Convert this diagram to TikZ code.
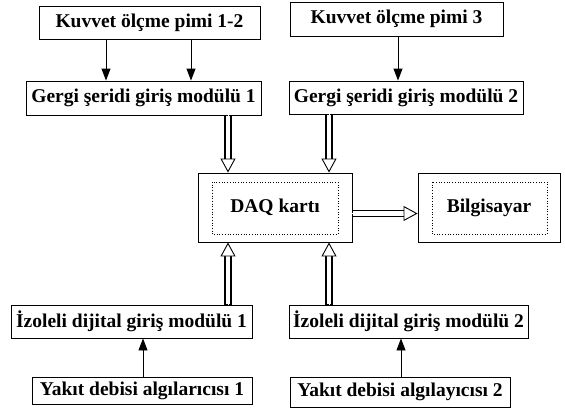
\documentclass[tikz,border=0pt]{standalone}
\usepackage{fontspec}
\setmainfont{Liberation Serif}
\usetikzlibrary{arrows.meta}
\tikzset{
	blok/.style={draw, line width=0.9pt, inner sep=0pt, font=\bfseries\fontsize{19.5}{22}\selectfont},
	ince/.style={line width=0.9pt, -{Triangle[length=12pt,width=9pt]}},
	bos/.style={
		preaction={draw=black, -, line width=7.8pt, shorten >=9pt},
		preaction={draw=white, -, line width=4.8pt, shorten >=8pt, shorten <=0.9pt},
		draw=white, line width=0.9pt,
		-{Triangle[open, fill=white, color=black, line width=0.9pt, length=14pt, width=15pt]}},
	icnokta/.style={draw, dotted, line width=0.7pt}
}
\begin{document}
\begin{tikzpicture}[x=1pt, y=-1pt, line join=miter]
	\useasboundingbox (0,0) rectangle (565,413);
	% kutular
	\node[blok, minimum width=221, minimum height=33] (k12) at (149.5,22.5) {Kuvvet ölçme pimi 1-2};
	\node[blok, minimum width=213, minimum height=34] (k3) at (396.5,19) {Kuvvet ölçme pimi 3};
	\node[blok, minimum width=235, minimum height=34] (g1) at (143.5,98) {Gergi şeridi giriş modülü 1};
	\node[blok, minimum width=234, minimum height=33] (g2) at (406,97.5) {Gergi şeridi giriş modülü 2};
	\node[blok, minimum width=154, minimum height=69] (daq) at (275,207.5) {DAQ kartı};
	\node[blok, minimum width=142, minimum height=69] (pc) at (489,207.5) {Bilgisayar};
	\node[blok, minimum width=241, minimum height=33] (iz1) at (131.5,321.5) {İzoleli dijital giriş modülü 1};
	\node[blok, minimum width=239, minimum height=33] (iz2) at (408.5,321.5) {İzoleli dijital giriş modülü 2};
	\node[blok, minimum width=220, minimum height=27] (y1) at (142,390.5) {Yakıt debisi algılarıcısı 1};
	\node[blok, minimum width=220, minimum height=30] (y2) at (400,392) {Yakıt debisi algılayıcısı 2};
	\draw[icnokta] (212,182) rectangle (338,234);
	\draw[icnokta] (432,182) rectangle (547,234);
	% ince oklar
	\draw[ince] (k12.south -| 106,0) -- (g1.north -| 106,0);
	\draw[ince] (k12.south -| 191,0) -- (g1.north -| 191,0);
	\draw[ince] (k3.south -| 398,0) -- (g2.north -| 398,0);
	\draw[ince] (y1.north -| 143,0) -- (iz1.south -| 143,0);
	\draw[ince] (y2.north -| 401,0) -- (iz2.south -| 401,0);
	% bos oklar
	\draw[bos] (g1.south -| 228,0) -- (daq.north -| 228,0);
	\draw[bos] (g2.south -| 329,0) -- (daq.north -| 329,0);
	\draw[bos] (iz1.north -| 228,0) -- (daq.south -| 228,0);
	\draw[bos] (iz2.north -| 329,0) -- (daq.south -| 329,0);
	\draw[bos] (daq.east |- 0,213.5) -- (pc.west |- 0,213.5);
\end{tikzpicture}
\end{document}
